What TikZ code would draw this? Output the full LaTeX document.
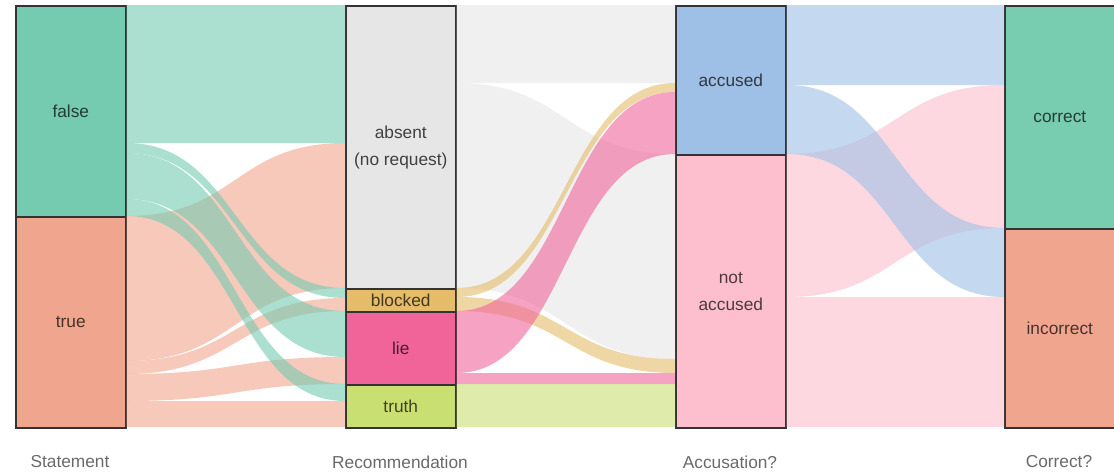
\documentclass[tikz,border=0pt]{standalone}
\usepackage{fontspec}
\setmainfont{Liberation Sans}
\usetikzlibrary{calc}
\definecolor{cfalse}{HTML}{74CBB0}
\definecolor{ctrue}{HTML}{F0A68E}
\definecolor{cabsent}{HTML}{E6E6E6}
\definecolor{cblocked}{HTML}{E5BC6A}
\definecolor{clie}{HTML}{F0649A}
\definecolor{ctruth}{HTML}{CADF72}
\definecolor{caccused}{HTML}{9EBFE6}
\definecolor{cnotacc}{HTML}{FDBFCD}
\definecolor{ccorrect}{HTML}{78CCB0}
\definecolor{cincorrect}{HTML}{F0A68E}
\definecolor{cborder}{HTML}{333333}
\definecolor{caxis}{HTML}{6A6A6A}
\tikzset{
  catbox/.style={draw=cborder, line width=1.6pt, anchor=north west, minimum width=110pt,
    inner sep=0pt, align=center, font=\fontsize{17.3}{27}\selectfont},
  axislabel/.style={text=caxis, font=\fontsize{17.3}{20}\selectfont, inner sep=0pt},
  flowband/.style={fill opacity=0.6, draw=none},
}
\newcommand\flowlink[7]{%
  \fill[flowband, fill=#7]
    ($(#1.north east)+(0,#2)$) .. controls ($(#1.north east)+(110,#2)$) and ($(#4.north west)+(-110,#5)$) .. ($(#4.north west)+(0,#5)$)
    -- ($(#4.north west)+(0,#6)$) .. controls ($(#4.north west)+(-110,#6)$) and ($(#1.north east)+(110,#3)$) .. ($(#1.north east)+(0,#3)$)
    -- cycle;}
\begin{document}
\begin{tikzpicture}[x=1pt, y=-1pt]
\useasboundingbox[fill=white] (0,0) rectangle (1114,472);
% Statement
\node[catbox, fill=cfalse, minimum height=211pt, text=cfalse!30!black] (false) at (15,5) {false};
\node[catbox, fill=ctrue, minimum height=211pt, text=ctrue!30!black] (true) at (15,216) {true};
% Recommendation
\node[catbox, fill=cabsent, minimum height=283pt, text=black!75] (absent) at (345,5) {absent\\(no request)};
\node[catbox, fill=cblocked, minimum height=23pt, text=cblocked!30!black] (blocked) at (345,288) {blocked};
\node[catbox, fill=clie, minimum height=73pt, text=clie!30!black] (lie) at (345,311) {lie};
\node[catbox, fill=ctruth, minimum height=43pt, text=ctruth!30!black] (truth) at (345,384) {truth};
% Accusation
\node[catbox, fill=caccused, minimum height=149pt, text=caccused!30!black] (accused) at (675,5) {accused};
\node[catbox, fill=cnotacc, minimum height=273pt, text=cnotacc!30!black] (notacc) at (675,154) {not\\accused};
% Correct
\node[catbox, fill=ccorrect, minimum height=223pt, text=ccorrect!30!black] (correct) at (1004,5) {correct};
\node[catbox, fill=cincorrect, minimum height=199pt, text=cincorrect!30!black] (incorrect) at (1004,228) {incorrect};
% axis labels
\node[axislabel] (lstatement) at (70,462) {Statement};
\node[axislabel] (lrec) at (400,462) {Recommendation};
\node[axislabel] (lacc) at (730,462) {Accusation?};
\node[axislabel] (lcorr) at (1059,462) {Correct?};
% flows Statement -> Recommendation
\flowlink{false}{0}{138}{absent}{0}{138}{cfalse}
\flowlink{true}{0}{145}{absent}{138}{283}{ctrue}
\flowlink{true}{145}{158}{blocked}{10}{23}{ctrue}
\flowlink{true}{158}{185}{lie}{46}{73}{ctrue}
\flowlink{true}{185}{211}{truth}{17}{43}{ctrue}
\flowlink{false}{138}{148}{blocked}{0}{10}{cfalse}
\flowlink{false}{148}{194}{lie}{0}{46}{cfalse}
\flowlink{false}{194}{211}{truth}{0}{17}{cfalse}
% flows Recommendation -> Accusation
\flowlink{absent}{0}{78}{accused}{0}{78}{cabsent}
\flowlink{absent}{78}{283}{notacc}{0}{205}{cabsent}
\flowlink{blocked}{0}{9}{accused}{78}{87}{cblocked}
\flowlink{blocked}{9}{23}{notacc}{205}{219}{cblocked}
\flowlink{lie}{0}{62}{accused}{87}{149}{clie}
\flowlink{lie}{62}{73}{notacc}{219}{230}{clie}
\flowlink{truth}{0}{43}{notacc}{230}{273}{ctruth}
% flows Accusation -> Correct
\flowlink{accused}{0}{80}{correct}{0}{80}{caccused}
\flowlink{notacc}{0}{143}{correct}{80}{223}{cnotacc}
\flowlink{notacc}{143}{273}{incorrect}{69}{199}{cnotacc}
\flowlink{accused}{80}{149}{incorrect}{0}{69}{caccused}
\end{tikzpicture}
\end{document}
